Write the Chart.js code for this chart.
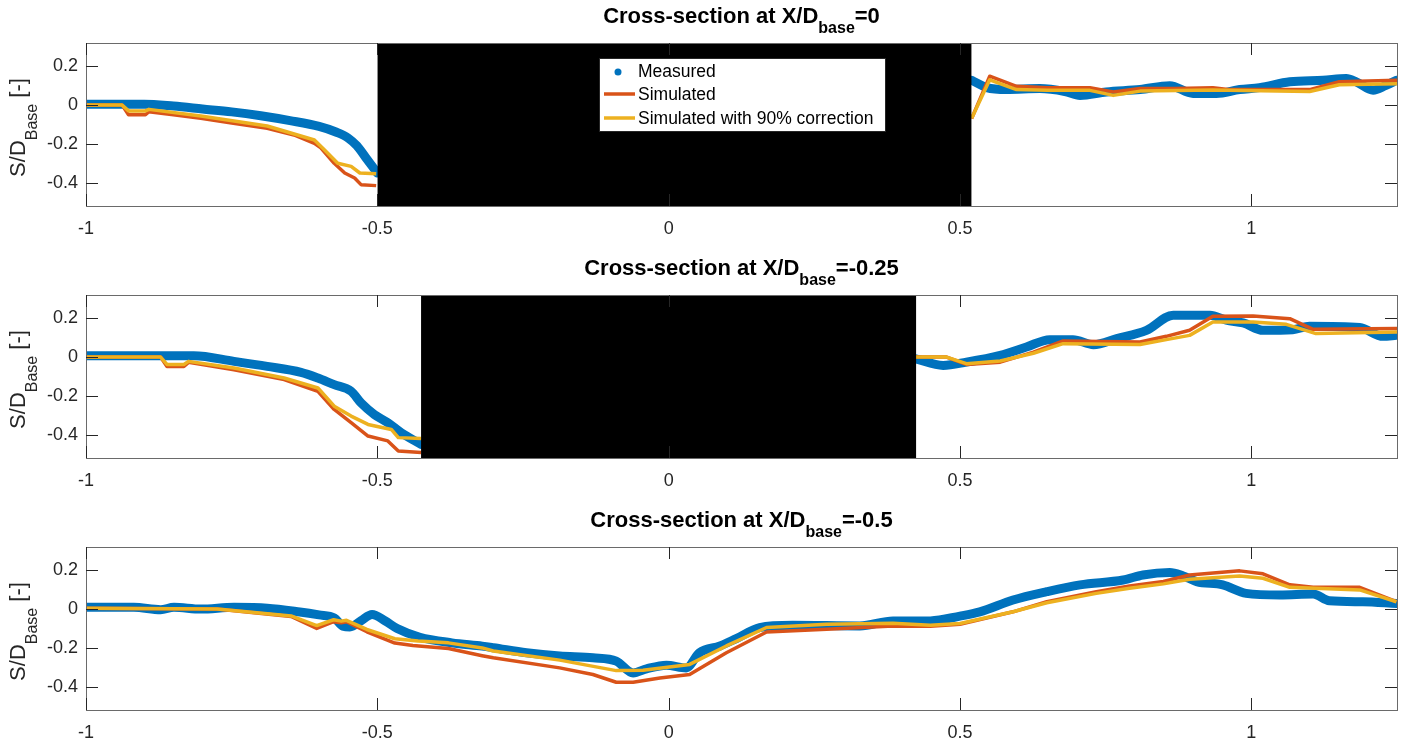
<!DOCTYPE html>
<html><head><meta charset="utf-8">
<script src="https://cdn.jsdelivr.net/npm/chart.js@4/dist/chart.umd.min.js"></script>
<style>
html,body{margin:0;padding:0;background:#fff;overflow:hidden;width:1413px;height:745px;}
.p{position:absolute;left:0;width:1413px;height:250px;}
</style></head><body>
<div class="p" style="top:0"><canvas id="c1" width="1413" height="250"></canvas></div>
<div class="p" style="top:252px"><canvas id="c2" width="1413" height="250"></canvas></div>
<div class="p" style="top:504px"><canvas id="c3" width="1413" height="250"></canvas></div>
<script>
// ---------- data ----------
const xTicks = [-1, -0.5, 0, 0.5, 1];
const yTicks = [-0.4, -0.2, 0, 0.2];
const xMin = -1, xMax = 1.25, yMin = -0.52, yMax = 0.32;
const titleValues = ['0', '-0.25', '-0.5'];
const legendNames = ['Measured', 'Simulated', 'Simulated with 90% correction'];

// hidden (black) regions per subplot: [xStart, xEnd]
const block1 = [-0.5, 0.52];
const block2 = [-0.425, 0.425];
const block3 = null;

// Subplot 1 (X/D = 0)
const meas1X = [-1, -0.95, -0.9, -0.85, -0.8, -0.75, -0.7, -0.65, -0.6, -0.57, -0.55, -0.535, -0.52, -0.505, -0.5, null, 0.52, 0.546, 0.58, 0.637, 0.68, 0.706, 0.751, 0.809, 0.86, 0.9, 0.94, 0.98, 1.014, 1.066, 1.123, 1.163, 1.18, 1.209, 1.23, 1.249];
const meas1Y = [0.005, 0.005, 0.005, -0.005, -0.02, -0.035, -0.055, -0.08, -0.11, -0.14, -0.17, -0.21, -0.27, -0.33, -0.35, null, 0.128, 0.09, 0.08, 0.085, 0.07, 0.05, 0.068, 0.08, 0.1, 0.06, 0.06, 0.08, 0.09, 0.12, 0.128, 0.137, 0.12, 0.077, 0.10, 0.128];
const sim1X = [-1, -0.938, -0.927, -0.898, -0.892, -0.85, -0.803, -0.75, -0.689, -0.643, -0.608, -0.597, -0.574, -0.556, -0.539, -0.528, -0.502, null, 0.52, 0.551, 0.597, 0.65, 0.723, 0.763, 0.809, 0.87, 0.934, 0.96, 1.0, 1.1, 1.151, 1.25];
const sim1Y = [0, 0, -0.05, -0.05, -0.034, -0.05, -0.068, -0.092, -0.12, -0.154, -0.197, -0.22, -0.3, -0.35, -0.376, -0.41, -0.415, null, -0.07, 0.149, 0.097, 0.089, 0.089, 0.068, 0.085, 0.085, 0.09, 0.08, 0.08, 0.08, 0.12, 0.128];
const cor1X = [-1, -0.938, -0.927, -0.898, -0.892, -0.803, -0.689, -0.608, -0.591, -0.568, -0.545, -0.53, -0.502, null, 0.52, 0.551, 0.597, 0.65, 0.723, 0.763, 0.809, 0.934, 1.1, 1.151, 1.25];
const cor1Y = [0, 0, -0.03, -0.03, -0.022, -0.056, -0.108, -0.18, -0.23, -0.3, -0.316, -0.35, -0.354, null, -0.068, 0.13, 0.08, 0.076, 0.076, 0.05, 0.072, 0.078, 0.07, 0.105, 0.11];

// Subplot 2 (X/D = -0.25)
const meas2X = [-1, -0.9, -0.815, -0.746, -0.689, -0.631, -0.602, -0.574, -0.545, -0.528, -0.505, -0.482, -0.459, -0.425, null, 0.424, 0.471, 0.511, 0.569, 0.614, 0.654, 0.694, 0.729, 0.769, 0.82, 0.866, 0.929, 0.957, 0.986, 1.02, 1.071, 1.1, 1.186, 1.226, 1.249];
const meas2Y = [0.007, 0.007, 0.007, -0.022, -0.048, -0.079, -0.108, -0.142, -0.176, -0.236, -0.296, -0.338, -0.39, -0.45, null, -0.009, -0.043, -0.026, 0.009, 0.052, 0.09, 0.09, 0.064, 0.095, 0.138, 0.216, 0.216, 0.19, 0.176, 0.138, 0.141, 0.159, 0.152, 0.107, 0.112];
const sim2X = [-1, -0.872, -0.861, -0.832, -0.824, -0.746, -0.66, -0.602, -0.574, -0.545, -0.516, -0.482, -0.464, -0.425, null, 0.424, 0.477, 0.511, 0.569, 0.626, 0.677, 0.809, 0.854, 0.894, 0.934, 1.003, 1.066, 1.106, 1.25];
const sim2Y = [0, 0, -0.048, -0.048, -0.027, -0.065, -0.116, -0.176, -0.27, -0.338, -0.407, -0.432, -0.484, -0.492, null, 0, 0, -0.038, -0.026, 0.026, 0.083, 0.078, 0.107, 0.138, 0.21, 0.212, 0.198, 0.143, 0.147];
const cor2X = [-1, -0.872, -0.861, -0.832, -0.824, -0.746, -0.66, -0.602, -0.574, -0.545, -0.516, -0.476, -0.464, -0.425, null, 0.424, 0.477, 0.511, 0.569, 0.626, 0.677, 0.809, 0.854, 0.894, 0.934, 1.003, 1.06, 1.111, 1.25];
const cor2Y = [0, 0, -0.038, -0.038, -0.022, -0.056, -0.108, -0.159, -0.253, -0.304, -0.347, -0.373, -0.415, -0.42, null, 0, 0, -0.034, -0.02, 0.02, 0.069, 0.065, 0.09, 0.112, 0.181, 0.181, 0.169, 0.121, 0.129];

// Subplot 3 (X/D = -0.5)
const meas3X = [-1, -0.918, -0.872, -0.849, -0.803, -0.746, -0.689, -0.633, -0.6, -0.574, -0.559, -0.547, -0.528, -0.509, -0.487, -0.466, -0.427, -0.372, -0.32, -0.301, -0.244, -0.187, -0.13, -0.09, -0.061, -0.038, -0.004, 0.03, 0.053, 0.088, 0.116, 0.156, 0.213, 0.328, 0.385, 0.449, 0.5, 0.534, 0.591, 0.649, 0.706, 0.78, 0.814, 0.86, 0.883, 0.906, 0.951, 0.991, 1.049, 1.106, 1.134, 1.191, 1.249];
const meas3Y = [0.009, 0.009, -0.003, 0.009, 0, 0.009, 0.005, -0.015, -0.03, -0.045, -0.088, -0.092, -0.06, -0.028, -0.06, -0.1, -0.145, -0.174, -0.191, -0.199, -0.225, -0.242, -0.251, -0.268, -0.329, -0.308, -0.289, -0.303, -0.225, -0.19, -0.152, -0.095, -0.083, -0.087, -0.061, -0.061, -0.036, -0.014, 0.047, 0.09, 0.125, 0.15, 0.176, 0.189, 0.171, 0.142, 0.125, 0.081, 0.073, 0.078, 0.043, 0.038, 0.029];
const sim3X = [-1, -0.775, -0.648, -0.604, -0.575, -0.562, -0.553, -0.518, -0.47, -0.439, -0.378, -0.32, -0.301, -0.187, -0.13, -0.09, -0.061, -0.015, 0.036, 0.099, 0.168, 0.271, 0.385, 0.449, 0.5, 0.591, 0.649, 0.734, 0.791, 0.849, 0.894, 0.98, 1.02, 1.066, 1.106, 1.186, 1.249];
const sim3Y = [0.005, 0, -0.038, -0.1, -0.065, -0.07, -0.065, -0.117, -0.175, -0.188, -0.203, -0.24, -0.251, -0.303, -0.337, -0.377, -0.377, -0.355, -0.337, -0.225, -0.118, -0.104, -0.087, -0.088, -0.078, -0.014, 0.038, 0.09, 0.119, 0.142, 0.176, 0.197, 0.182, 0.125, 0.112, 0.112, 0.038];
const cor3X = [-1, -0.775, -0.648, -0.604, -0.575, -0.562, -0.553, -0.518, -0.47, -0.43, -0.378, -0.32, -0.301, -0.187, -0.09, -0.044, 0.036, 0.099, 0.168, 0.271, 0.385, 0.449, 0.5, 0.591, 0.649, 0.734, 0.791, 0.849, 0.894, 0.98, 1.02, 1.066, 1.186, 1.249];
const cor3Y = [0.005, 0, -0.035, -0.085, -0.055, -0.062, -0.058, -0.105, -0.153, -0.165, -0.174, -0.2, -0.216, -0.263, -0.317, -0.315, -0.285, -0.19, -0.095, -0.078, -0.073, -0.083, -0.074, -0.014, 0.033, 0.081, 0.107, 0.13, 0.154, 0.171, 0.159, 0.112, 0.099, 0.038];

// ---------- style ----------
const FONT = '"Liberation Sans", Arial, Helvetica, sans-serif';
const C_MEAS = '#0072BD', C_SIM = '#D95319', C_COR = '#EDB120';
const AX = '#262626';
const TL = 12;

function pts(xs, ys) {
  return xs.map((x, i) => (ys[i] === null || x === null) ? { x: xs[i - 1], y: null } : { x: x, y: ys[i] });
}

function drawParts(ctx, parts, cx, baseY) {
  let total = 0;
  parts.forEach(p => { ctx.font = p.font; p.w = ctx.measureText(p.t).width; total += p.w; });
  let x = cx - total / 2;
  ctx.textAlign = 'left'; ctx.textBaseline = 'alphabetic';
  parts.forEach(p => { ctx.font = p.font; ctx.fillText(p.t, x, baseY + p.dy); x += p.w; });
}

function decor(idx, withLegend) {
  return {
    id: 'decor' + idx,
    afterDraw(chart) {
      const ctx = chart.ctx, a = chart.chartArea;
      const xs = chart.scales.x, ys = chart.scales.y;
      ctx.save();
      // box
      ctx.strokeStyle = '#6a6a6a'; ctx.lineWidth = 1;
      ctx.strokeRect(Math.round(a.left) + 0.5, Math.round(a.top) + 0.5, Math.round(a.right - a.left), Math.round(a.bottom - a.top));
      // inward ticks, mirrored
      ctx.strokeStyle = AX;
      ctx.beginPath();
      xTicks.forEach(v => {
        const px = Math.round(xs.getPixelForValue(v)) + 0.5;
        ctx.moveTo(px, a.bottom); ctx.lineTo(px, a.bottom - TL);
        ctx.moveTo(px, a.top); ctx.lineTo(px, a.top + TL);
      });
      yTicks.forEach(v => {
        const py = Math.round(ys.getPixelForValue(v)) + 0.5;
        ctx.moveTo(a.left, py); ctx.lineTo(a.left + TL, py);
        ctx.moveTo(a.right, py); ctx.lineTo(a.right - TL, py);
      });
      ctx.stroke();
      // title
      ctx.fillStyle = '#000';
      drawParts(ctx, [
        { t: 'Cross-section at X/D', font: 'bold 22px ' + FONT, dy: 0 },
        { t: 'base', font: 'bold 16px ' + FONT, dy: 10 },
        { t: '=' + titleValues[idx], font: 'bold 22px ' + FONT, dy: 0 }
      ], (a.left + a.right) / 2, a.top - 20);
      // y label
      ctx.save();
      ctx.translate(25, (a.top + a.bottom) / 2 + 3);
      ctx.rotate(-Math.PI / 2);
      ctx.fillStyle = AX;
      drawParts(ctx, [
        { t: 'S/D', font: '22px ' + FONT, dy: 0 },
        { t: 'Base', font: '16px ' + FONT, dy: 12 },
        { t: ' [-]', font: '22px ' + FONT, dy: 0 }
      ], 0, 0);
      ctx.restore();
      // legend
      if (withLegend) {
        const bx = Math.round(a.left + 513), by = Math.round(a.top + 15), bw = 286, bh = 73;
        ctx.fillStyle = '#fff'; ctx.fillRect(bx, by, bw, bh);
        ctx.strokeStyle = '#262626'; ctx.lineWidth = 1;
        ctx.strokeRect(bx + 0.5, by + 0.5, bw, bh);
        const rows = [14, 37.5, 61.5];
        const cols = [C_MEAS, C_SIM, C_COR];
        ctx.font = '17.5px ' + FONT; ctx.textBaseline = 'middle'; ctx.textAlign = 'left';
        legendNames.forEach((name, i) => {
          const ry = by + rows[i];
          if (i === 0) {
            ctx.fillStyle = cols[i]; ctx.beginPath(); ctx.arc(bx + 19, ry, 3.5, 0, Math.PI * 2); ctx.fill();
          } else {
            ctx.strokeStyle = cols[i]; ctx.lineWidth = 3.5; ctx.beginPath();
            ctx.moveTo(bx + 5, ry - 1.5); ctx.lineTo(bx + 36, ry - 1.5); ctx.stroke();
          }
          ctx.fillStyle = '#000'; ctx.fillText(name, bx + 39, ry);
        });
      }
      ctx.restore();
    }
  };
}

function makeChart(id, idx, block, mX, mY, sX, sY, cX, cY, withLegend) {
  const ds = [];
  ds.push({
    label: 'hidden', data: block ? [{ x: block[0], y: yMax }, { x: block[1], y: yMax }] : [],
    borderWidth: 0, borderColor: '#000', backgroundColor: '#000', pointRadius: 0, fill: 'start'
  });
  ds.push({ label: legendNames[2], data: pts(cX, cY), borderColor: C_COR, borderWidth: 3.5, pointRadius: 0, fill: false, tension: 0, borderJoinStyle: 'round', spanGaps: false });
  ds.push({ label: legendNames[1], data: pts(sX, sY), borderColor: C_SIM, borderWidth: 3.5, pointRadius: 0, fill: false, tension: 0, borderJoinStyle: 'round', spanGaps: false });
  ds.push({ label: legendNames[0], data: pts(mX, mY), borderColor: C_MEAS, borderWidth: 9, pointRadius: 0, fill: false, cubicInterpolationMode: 'monotone', borderJoinStyle: 'round', borderCapStyle: 'round', spanGaps: false });
  return new Chart(document.getElementById(id), {
    type: 'line',
    data: { datasets: ds },
    options: {
      responsive: false, animation: false, devicePixelRatio: 1, events: [],
      layout: { padding: { top: 43, right: 16, left: 0, bottom: 0 } },
      plugins: { legend: { display: false }, tooltip: { enabled: false }, title: { display: false } },
      scales: {
        x: {
          type: 'linear', min: xMin, max: xMax,
          grid: { display: false, drawTicks: false }, border: { display: false },
          afterBuildTicks: s => { s.ticks = xTicks.map(v => ({ value: v })); },
          afterFit: s => { s.height = 44; },
          ticks: { color: AX, font: { family: FONT, size: 18 }, padding: 12, maxRotation: 0, autoSkip: false, callback: v => String(v) }
        },
        y: {
          type: 'linear', min: yMin, max: yMax,
          grid: { display: false, drawTicks: false }, border: { display: false },
          afterBuildTicks: s => { s.ticks = yTicks.map(v => ({ value: v })); },
          afterFit: s => { s.width = 86; },
          ticks: { color: AX, font: { family: FONT, size: 18 }, padding: 8, autoSkip: false, callback: v => String(v) }
        }
      }
    },
    plugins: [decor(idx, withLegend)]
  });
}

makeChart('c1', 0, block1, meas1X, meas1Y, sim1X, sim1Y, cor1X, cor1Y, true);
makeChart('c2', 1, block2, meas2X, meas2Y, sim2X, sim2Y, cor2X, cor2Y, false);
makeChart('c3', 2, block3, meas3X, meas3Y, sim3X, sim3Y, cor3X, cor3Y, false);
</script>
</body></html>
